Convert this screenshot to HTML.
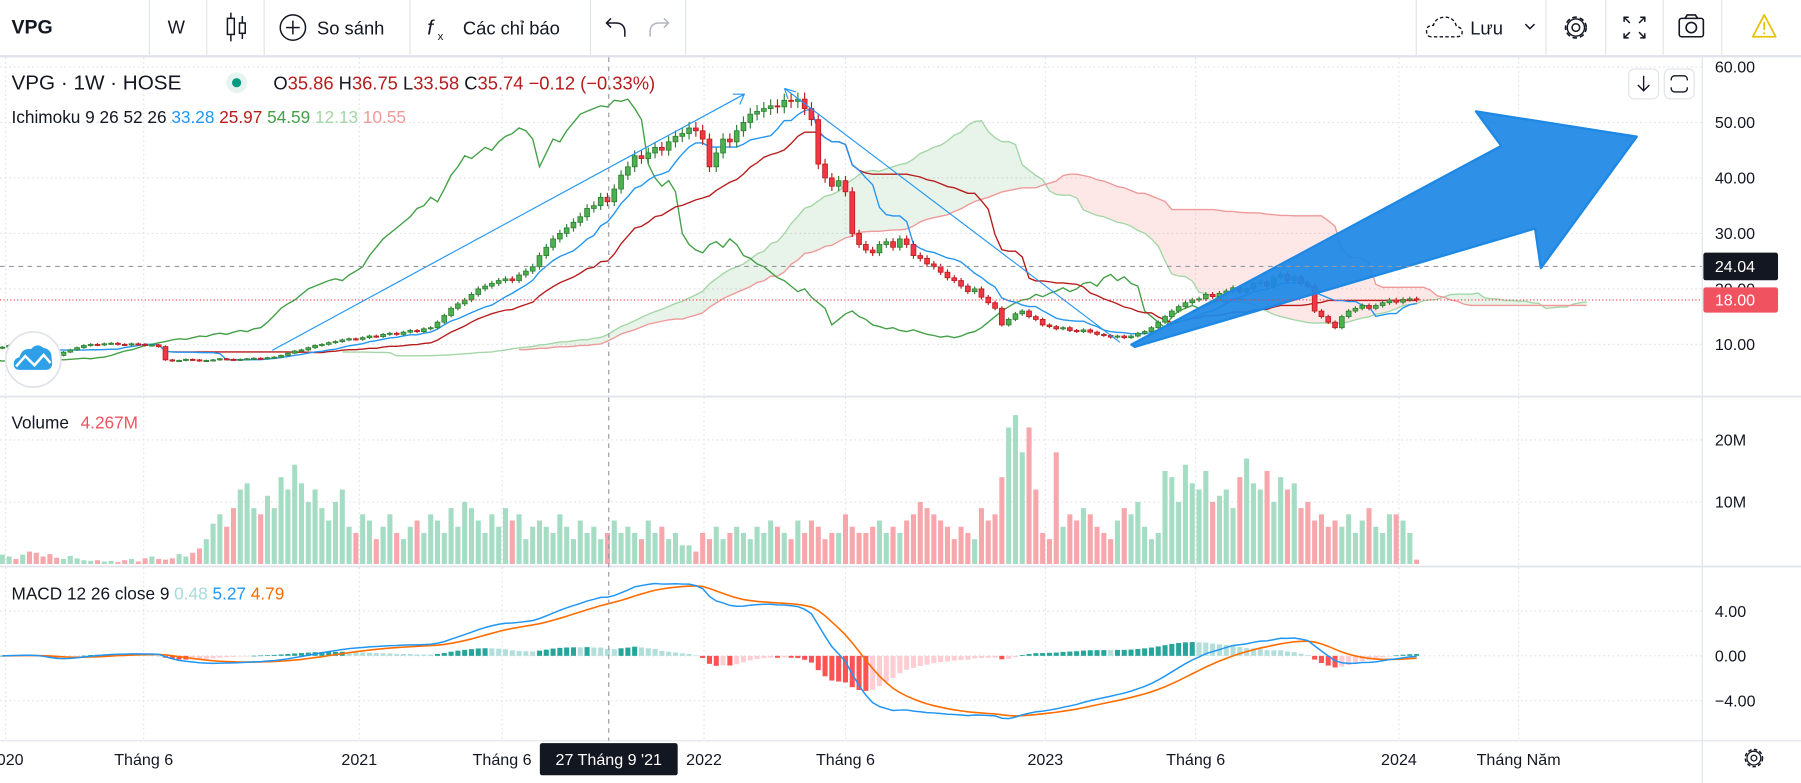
<!DOCTYPE html>
<html><head><meta charset="utf-8">
<style>
html,body{margin:0;padding:0;background:#fff;overflow:hidden}
svg{display:block;font-family:"Liberation Sans","Noto Sans CJK SC",sans-serif}
</style></head>
<body>
<svg id="root" width="1801" height="783" viewBox="0 0 1568 681.7" preserveAspectRatio="none" xmlns="http://www.w3.org/2000/svg">
<rect x="0" y="0" width="1568" height="682" fill="#fff"/>
<!-- toolbar -->
<g>
  <rect x="0" y="48" width="1568" height="2" fill="#e0e3eb"/>
  <g stroke="#e0e3eb" stroke-width="1">
    <line x1="130" y1="0" x2="130" y2="48"/><line x1="180" y1="0" x2="180" y2="48"/>
    <line x1="230" y1="0" x2="230" y2="48"/><line x1="357" y1="0" x2="357" y2="48"/>
    <line x1="514" y1="0" x2="514" y2="48"/><line x1="597" y1="0" x2="597" y2="48"/>
    <line x1="1233" y1="0" x2="1233" y2="48"/><line x1="1346" y1="0" x2="1346" y2="48"/>
    <line x1="1398" y1="0" x2="1398" y2="48"/><line x1="1448" y1="0" x2="1448" y2="48"/>
    <line x1="1499" y1="0" x2="1499" y2="48"/>
  </g>
  <text x="10" y="29" font-size="17" font-weight="bold" fill="#131722">VPG</text>
  <text x="146" y="29" font-size="16" fill="#131722">W</text>
  <g stroke="#131722" stroke-width="1.3" fill="none">
    <line x1="201" y1="11" x2="201" y2="36"/><rect x="198" y="16" width="6" height="14" fill="#fff"/>
    <line x1="211" y1="14" x2="211" y2="34"/><rect x="208.5" y="20" width="5" height="9" fill="#fff"/>
  </g>
  <g>
    <circle cx="255" cy="24" r="11" fill="none" stroke="#131722" stroke-width="1.3"/>
    <line x1="249" y1="24" x2="261" y2="24" stroke="#131722" stroke-width="1.3"/>
    <line x1="255" y1="18" x2="255" y2="30" stroke="#131722" stroke-width="1.3"/>
    <text x="276" y="30" font-size="16" fill="#131722">So sánh</text>
  </g>
  <g>
    <text x="372" y="30" font-size="18" font-style="italic" fill="#131722">f</text>
    <text x="381" y="35" font-size="10" fill="#131722">x</text>
    <text x="403" y="30" font-size="16" fill="#131722">Các chỉ báo</text>
  </g>
  <g fill="none" stroke="#131722" stroke-width="1.3">
    <path d="M544 32 L544 28 Q544 20 536 20 L528 20 M532 16 L528 20 L532 24"/>
  </g>
  <g fill="none" stroke="#b2b5be" stroke-width="1.3">
    <path d="M566 32 L566 28 Q566 20 574 20 L582 20 M578 16 L582 20 L578 24"/>
  </g>
  <g>
    <path d="M1246 32 Q1242 32 1242 27 Q1242 22 1248 22 Q1250 15 1258 15 Q1266 15 1268 23 Q1273 24 1273 28 Q1273 32 1268 32 Z" fill="none" stroke="#131722" stroke-width="1.2" stroke-dasharray="3 2"/>
    <text x="1280" y="30" font-size="16" fill="#131722">Lưu</text>
    <path d="M1328 21 L1332 25 L1336 21" fill="none" stroke="#131722" stroke-width="1.3"/>
  </g>
  <g>
    <circle cx="1372" cy="24" r="9" fill="none" stroke="#131722" stroke-width="1.4" stroke-dasharray="4 2.5"/>
    <circle cx="1372" cy="24" r="7.5" fill="none" stroke="#131722" stroke-width="1.2"/>
    <circle cx="1372" cy="24" r="3.3" fill="none" stroke="#131722" stroke-width="1.3"/>
  </g>
  <g fill="none" stroke="#131722" stroke-width="1.3">
    <path d="M1414 19 L1414 15 L1418 15 M1414 15 L1419 20 M1432 19 L1432 15 L1428 15 M1432 15 L1427 20 M1414 29 L1414 33 L1418 33 M1414 33 L1419 28 M1432 29 L1432 33 L1428 33 M1432 33 L1427 28"/>
  </g>
  <g fill="none" stroke="#131722" stroke-width="1.4">
    <rect x="1462" y="16" width="21" height="16" rx="2"/>
    <path d="M1467 16 L1469 13 L1476 13 L1478 16"/>
    <circle cx="1472.5" cy="24" r="4.5"/>
  </g>
  <g>
    <path d="M1536 13 L1546 32 L1526 32 Z" fill="none" stroke="#e6c200" stroke-width="1.5" stroke-linejoin="round"/>
    <line x1="1536" y1="19" x2="1536" y2="26" stroke="#e6c200" stroke-width="1.6"/>
    <circle cx="1536" cy="29" r="0.9" fill="#e6c200"/>
  </g>
</g>
<g id="chart"></g>
</svg>
<script>
// ---------- data ----------
const closes = [
9.5,9.8,9.6,9.9,9.7,9.4,8.8,8.2,8.0,8.6,9.0,9.4,9.8,10.0,9.9,10.1,10.2,10.0,9.9,10.1,10.0,9.8,9.9,9.6,
7.2,7.0,7.1,7.3,7.2,7.0,7.1,7.2,7.4,7.3,7.2,7.3,7.4,7.5,7.4,7.6,7.7,
8.0,8.4,8.8,9.0,9.4,9.8,10.0,10.3,10.5,
10.8,11.0,10.9,11.2,11.5,11.4,11.8,12.0,11.8,12.2,12.5,12.3,12.8,13.0,
14.0,15.2,16.5,17.3,18.0,
19.0,20.0,20.5,21.0,21.5,21.8,21.5,
22.5,23.2,24.0,
26.0,27.5,29.0,30.0,31.0,
32.0,33.0,34.5,35.0,36.5,35.7,38.0,
40.5,42.0,44.0,
43.5,44.5,45.5,45.0,46.5,47.5,48.0,
49.0,48.5,47.0,
42.0,44.5,
47.0,46.5,48.5,50.0,51.5,52.0,
52.5,53.0,52.8,54.0,53.8,54.2,
52.5,50.5,
42.5,
40.0,38.5,39.5,37.5,
30.0,
28.0,27.0,26.5,28.0,28.5,27.5,29.0,28.0,
26.0,25.5,24.5,24.0,23.0,22.0,
21.5,20.5,19.5,20.0,18.5,17.5,16.5,
13.5,14.5,
15.5,16.0,15.0,14.5,
13.5,13.2,12.8,13.0,12.5,12.3,12.6,12.2,11.8,
11.6,11.3,11.5,11.2,11.5,12.0,12.3,
13.0,14.0,15.0,16.0,16.8,17.5,18.0,
18.2,19.0,18.6,19.2,19.6,20.2,19.5,
20.0,21.0,21.2,20.5,22.0,22.6,21.5,22.2,
21.0,20.5,16.0,
15.0,14.0,13.0,15.0,
16.0,16.5,17.0,16.5,17.0,
17.5,18.0,17.6,18.1,18.2,18.0
];
const volumes = [
1.5,1.2,0.8,1.5,2.0,1.8,1.2,1.6,1.0,0.8,1.3,0.9,0.6,0.5,0.6,0.4,0.5,0.3,0.6,0.8,0.4,0.9,1.2,0.8,
0.7,0.9,1.6,1.2,1.8,2.5,
4,6.5,8,6,9,12,13,9,8,11,9,14,12,16,13,10,12,9,7,10,12,
6,5,8,7,4,6,8,5,4,6,7,5,
8,7,5,9,6,10,9,7,5,8,6,9,7,8,4,6,7,6,
5,8,6,4,7,5,6,4,5,7,5,6,5,4,7,5,6,4,5,3,
3,2,5,4,6,4,5,6,5,4,6,5,7,6,5,4,7,5,7,6,
4,5,5,8,6,5,5,6,7,5,6,5,7,8,10,9,8,7,6,4,
6,5,4,9,7,8,14,22,24,18,22,12,
5,4,18,6,8,7,9,8,6,5,4,7,9,8,10,6,4,5,
15,14,10,16,13,12,15,10,11,12,9,14,17,13,12,15,10,14,12,13,
9,10,7,8,6,7,6,8,5,7,9,6,5,8,8,7,5,0.7
];
const priceTicks = [60,50,40,30,20,10];
const volumeTicks = [10,20];
const macdTicks = [4,0,-4];
const timeLabels = ["2020","Tháng 6","2021","Tháng 6","2022","Tháng 6","2023","Tháng 6","2024","Tháng Năm"];
const timeLabelWeeks = [0.5,20.8,52.5,73.5,103.2,124,153.4,175.5,205.4,223];
const lastPrice = 18.00;
const crossPrice = 24.04;

// ---------- scales ----------
const NS = "http://www.w3.org/2000/svg";
const chart = document.getElementById('chart');
const PANE_R = 1482;
function xAt(i){ return 2 + i*5.92; }
function yP(p){ return 58.3 + (60-p)*4.83; }
function yV(v){ return 491 - v*5.4; }
function yM(v){ return 571 - v*9.75; }
function el(tag, attrs, parent){
  const e = document.createElementNS(NS, tag);
  for (const k in attrs) e.setAttribute(k, attrs[k]);
  (parent||chart).appendChild(e);
  return e;
}
function grp(name){
  const g = el('g', {});
  
  
  return g;
}

// ---------- derived OHLC ----------
const N = closes.length;
const opens = closes.map((c,i)=> i===0 ? c*0.98 : closes[i-1]);
const highs = closes.map((c,i)=> Math.max(c,opens[i])*1.022);
const lows = closes.map((c,i)=> Math.min(c,opens[i])*0.978);

// ---------- grid ----------
const grid = grp('grid-lines');
timeLabelWeeks.forEach(w=>{
  const x = xAt(w);
  el('line',{x1:x,y1:50,x2:x,y2:645,stroke:'#e0e3eb','stroke-dasharray':'1.5 2.5'},grid);
});
priceTicks.forEach(p=> el('line',{x1:0,y1:yP(p),x2:PANE_R,y2:yP(p),stroke:'#e0e3eb','stroke-dasharray':'1.5 2.5'},grid));
volumeTicks.forEach(v=> el('line',{x1:0,y1:yV(v),x2:PANE_R,y2:yV(v),stroke:'#e0e3eb','stroke-dasharray':'1.5 2.5'},grid));
macdTicks.forEach(v=> el('line',{x1:0,y1:yM(v),x2:PANE_R,y2:yM(v),stroke:'#e0e3eb','stroke-dasharray':'1.5 2.5'},grid));

// ---------- ichimoku ----------
function midHL(i, n){
  if (i < n-1) return null;
  let h=-1e9,l=1e9;
  for (let k=i-n+1;k<=i;k++){ h=Math.max(h,highs[k]); l=Math.min(l,lows[k]); }
  return (h+l)/2;
}
const tenkan = closes.map((c,i)=>midHL(i,9));
const kijun = closes.map((c,i)=>midHL(i,26));
const spanA = closes.map((c,i)=> (tenkan[i]!==null && kijun[i]!==null) ? (tenkan[i]+kijun[i])/2 : null);
const spanB = closes.map((c,i)=>midHL(i,52));
const cloud = grp('ichimoku-cloud');
for (let i=0;i<N-1;i++){
  if (spanA[i]===null||spanB[i]===null) continue;
  const x1 = xAt(i+25), x2 = xAt(i+26);
  const fill = spanA[i] >= spanB[i] ? 'rgba(67,160,71,0.12)' : 'rgba(244,67,54,0.12)';
  el('polygon',{points:`${x1},${yP(spanA[i])} ${x2},${yP(spanA[i+1])} ${x2},${yP(spanB[i+1])} ${x1},${yP(spanB[i])}`,fill:fill},cloud);
}
function linePath(arr, shift, yf){
  let d='';
  arr.forEach((v,i)=>{ if(v===null) return; d += (d?'L':'M') + xAt(i+shift).toFixed(1)+','+yf(v).toFixed(1); });
  return d;
}
const sa = el('path',{d:linePath(spanA,25,yP),fill:'none',stroke:'#a5d6a7','stroke-width':1.2});


const sb = el('path',{d:linePath(spanB,25,yP),fill:'none',stroke:'#ef9a9a','stroke-width':1.2});


const ch = el('path',{d:linePath(closes,-25,yP),fill:'none',stroke:'#43a047','stroke-width':1.2});


const kj = el('path',{d:linePath(kijun,0,yP),fill:'none',stroke:'#b71c1c','stroke-width':1.2});


const tk = el('path',{d:linePath(tenkan,0,yP),fill:'none',stroke:'#2196f3','stroke-width':1.2});



// ---------- candles ----------
const candles = grp('candlesticks');
for (let i=0;i<N;i++){
  const up = closes[i] >= opens[i];
  const x = xAt(i);
  const g = el('g',{},candles);
  
  
  el('line',{x1:x,y1:yP(highs[i]),x2:x,y2:yP(lows[i]),stroke:up?'#2e7d32':'#b71c1c','stroke-width':1},g);
  const yt = yP(Math.max(opens[i],closes[i])), yb = yP(Math.min(opens[i],closes[i]));
  el('rect',{x:x-2.1,y:yt,width:4.2,height:Math.max(1,yb-yt),fill:up?'#4caf50':'#f23645',stroke:up?'#2e7d32':'#b71c1c','stroke-width':0.7},g);
}

// ---------- drawings ----------
const draw = grp('drawings');
const t1 = el('line',{x1:237,y1:305,x2:648,y2:82,stroke:'#2196f3','stroke-width':1},draw);


el('path',{d:'M638,82 L648,82 L644,91',fill:'none',stroke:'#2196f3','stroke-width':1},draw);
const t2 = el('line',{x1:683,y1:77,x2:975,y2:298,stroke:'#2196f3','stroke-width':1},draw);


el('path',{d:'M683,77 L693,80 M683,77 L686,86',fill:'none',stroke:'#2196f3','stroke-width':1},draw);
const arrow = el('polygon',{points:'985,300 1307,127 1285,97 1425,119 1341.5,233.5 1336.5,199 988,302',fill:'#1e88e5','fill-opacity':0.93,'stroke':'#1e88e5','stroke-width':2,'stroke-linejoin':'round'},draw);



// ---------- horizontal price lines ----------
el('line',{x1:0,y1:yP(crossPrice),x2:PANE_R,y2:yP(crossPrice),stroke:'#9598a1','stroke-dasharray':'4 4'});
el('line',{x1:0,y1:yP(lastPrice),x2:PANE_R,y2:yP(lastPrice),stroke:'#f23645','stroke-dasharray':'1 2'});

// ---------- volume ----------
const vol = grp('volume-bars');
for (let i=0;i<N;i++){
  const up = closes[i] >= opens[i];
  const r = el('rect',{x:xAt(i)-2.2,y:yV(volumes[i]),width:4.4,height:491-yV(volumes[i]),fill:up?'#a5dcc4':'#f7a6ab'},vol);
  
  
}

// ---------- MACD ----------
function ema(arr,n){ const k=2/(n+1); const out=[]; arr.forEach((v,i)=> out.push(i===0?v:v*k+out[i-1]*(1-k))); return out; }
const e12 = ema(closes,12), e26 = ema(closes,26);
const macd = closes.map((c,i)=>e12[i]-e26[i]);
const signal = ema(macd,9);
const hist = macd.map((m,i)=>m-signal[i]);
const hg = grp('macd-histogram');
for (let i=0;i<N;i++){
  const h = hist[i], prev = i?hist[i-1]:0;
  let col;
  if (h>=0) col = h>=prev ? '#26a69a' : '#b2dfdb'; else col = h<prev ? '#ff5252' : '#ffcdd2';
  const y0 = yM(0), y1 = yM(h);
  const r = el('rect',{x:xAt(i)-2.2,y:Math.min(y0,y1),width:4.4,height:Math.max(0.6,Math.abs(y1-y0)),fill:col},hg);
  
  
}
const sl = el('path',{d:linePath(signal,0,yM),fill:'none',stroke:'#ff6d00','stroke-width':1.4});


const ml = el('path',{d:linePath(macd,0,yM),fill:'none',stroke:'#2196f3','stroke-width':1.3});



// ---------- mask right side & separators ----------
el('rect',{x:PANE_R,y:50,width:86,height:632,fill:'#fff'});
el('rect',{x:0,y:645,width:PANE_R,height:37,fill:'#fff'});
el('line',{x1:PANE_R,y1:50,x2:PANE_R,y2:682,stroke:'#e0e3eb'});
el('rect',{x:0,y:344.5,width:1568,height:1.5,fill:'#e0e3eb'});
el('rect',{x:0,y:492.5,width:1568,height:1.5,fill:'#e0e3eb'});
el('line',{x1:0,y1:645,x2:1568,y2:645,stroke:'#e0e3eb'});

// crosshair
el('line',{x1:530,y1:50,x2:530,y2:645,stroke:'#9598a1','stroke-dasharray':'4 4'});

// ---------- axes labels ----------
const pax = grp('price-axis');
priceTicks.forEach(p=>{
  const t = el('text',{x:1493,y:yP(p)+5,'font-size':14,fill:'#131722'},pax);
  t.textContent = p.toFixed(2);
});
const cb = el('rect',{x:1483,y:yP(crossPrice)-12,width:65,height:24,rx:2,fill:'#131722'},pax);


const ct = el('text',{x:1493,y:yP(crossPrice)+5,'font-size':14,fill:'#fff'},pax); ct.textContent = crossPrice.toFixed(2);
const lb = el('rect',{x:1483,y:yP(lastPrice)-11,width:65,height:22,rx:2,fill:'#f0525f'},pax);


const lt = el('text',{x:1493,y:yP(lastPrice)+5,'font-size':14,fill:'#fff'},pax); lt.textContent = lastPrice.toFixed(2);

const vax = grp('volume-axis');
volumeTicks.forEach(v=>{ const t = el('text',{x:1493,y:yV(v)+5,'font-size':14,fill:'#131722'},vax); t.textContent = v+'M'; });
const max = grp('macd-axis');
macdTicks.forEach(v=>{ const t = el('text',{x:1493,y:yM(v)+5,'font-size':14,fill:'#131722'},max); t.textContent = (v<0?'\u2212':'')+Math.abs(v).toFixed(2); });

const tax = grp('time-axis');
timeLabels.forEach((s,k)=>{
  const t = el('text',{x:xAt(timeLabelWeeks[k]),y:666,'font-size':14,fill:'#131722','text-anchor':'middle'},tax);
  t.textContent = s;
});
const db = el('rect',{x:470,y:647,width:120,height:28,rx:2,fill:'#131722'},tax);


const dt = el('text',{x:530,y:666,'font-size':14,fill:'#fff','text-anchor':'middle'},tax); dt.textContent = "27 Tháng 9 '21";
// gear bottom right
const gear = el('g',{});


el('circle',{cx:1527,cy:660,r:7.5,fill:'none',stroke:'#131722','stroke-width':1.3,'stroke-dasharray':'3 2'},gear);
el('circle',{cx:1527,cy:660,r:6,fill:'none',stroke:'#131722','stroke-width':1.1},gear);
el('circle',{cx:1527,cy:660,r:2.5,fill:'none',stroke:'#131722','stroke-width':1.1},gear);

// pane buttons
const pb1 = el('rect',{x:1418,y:60,width:26,height:26,rx:5,fill:'#fff',stroke:'#e0e3eb'});


el('path',{d:'M1431 66 L1431 79 M1426 74 L1431 79 L1436 74',fill:'none',stroke:'#131722','stroke-width':1.2});
const pb2 = el('rect',{x:1449,y:60,width:26,height:26,rx:5,fill:'#fff',stroke:'#e0e3eb'});


el('rect',{x:1455,y:66,width:14,height:14,rx:3,fill:'none',stroke:'#131722','stroke-width':1.2});
el('rect',{x:1453,y:70,width:18,height:6,fill:'#fff'});

// logo
const logo = el('g',{});


el('circle',{cx:29,cy:313,r:24,fill:'#fff',stroke:'#e0e3eb','stroke-width':1.5},logo);
el('path',{d:'M17 322 Q12 322 12 317 Q12 312 17 311 Q19 303 27 304 Q32 298 38 303 Q45 304 45 312 Q47 322 40 322 Z',fill:'#2ea0e8'},logo);
el('path',{d:'M14 319 L22 310 L30 318 L38 309 L44 316',fill:'none',stroke:'#fff','stroke-width':2.2},logo);

// ---------- legends ----------
function txt(x,y,s,size,col,parent,name){
  const t = el('text',{x:x,y:y,'font-size':size,fill:col},parent);
  t.textContent = s;
  return t;
}
const lg = grp('main-legend');
txt(10,78,'VPG · 1W · HOSE',18,'#131722',lg);
el('circle',{cx:206,cy:72,r:9,fill:'#e6f4f1'},lg);
el('circle',{cx:206,cy:72,r:4,fill:'#089981'},lg);
const ohlc = el('text',{x:238,y:78,'font-size':16,fill:'#b71c1c'},lg);
ohlc.innerHTML = '<tspan fill="#131722">O</tspan>35.86 <tspan fill="#131722">H</tspan>36.75 <tspan fill="#131722">L</tspan>33.58 <tspan fill="#131722">C</tspan>35.74 \u22120.12 (\u22120.33%)';
const il = el('text',{x:10,y:107,'font-size':15,fill:'#131722'},lg);
il.innerHTML = 'Ichimoku 9 26 52 26 <tspan fill="#2196f3">33.28</tspan> <tspan fill="#b71c1c">25.97</tspan> <tspan fill="#43a047">54.59</tspan> <tspan fill="#a5d6a7">12.13</tspan> <tspan fill="#ef9a9a">10.55</tspan>';
const vl = el('text',{x:10,y:373,'font-size':15,fill:'#131722'},lg);
vl.innerHTML = 'Volume <tspan fill="#f0525f" dx="6">4.267M</tspan>';
const mlg = el('text',{x:10,y:522,'font-size':15,fill:'#131722'},lg);
mlg.innerHTML = 'MACD 12 26 close 9 <tspan fill="#a8dadc">0.48</tspan> <tspan fill="#2196f3">5.27</tspan> <tspan fill="#ff6d00">4.79</tspan>';
</script>
</body></html>
